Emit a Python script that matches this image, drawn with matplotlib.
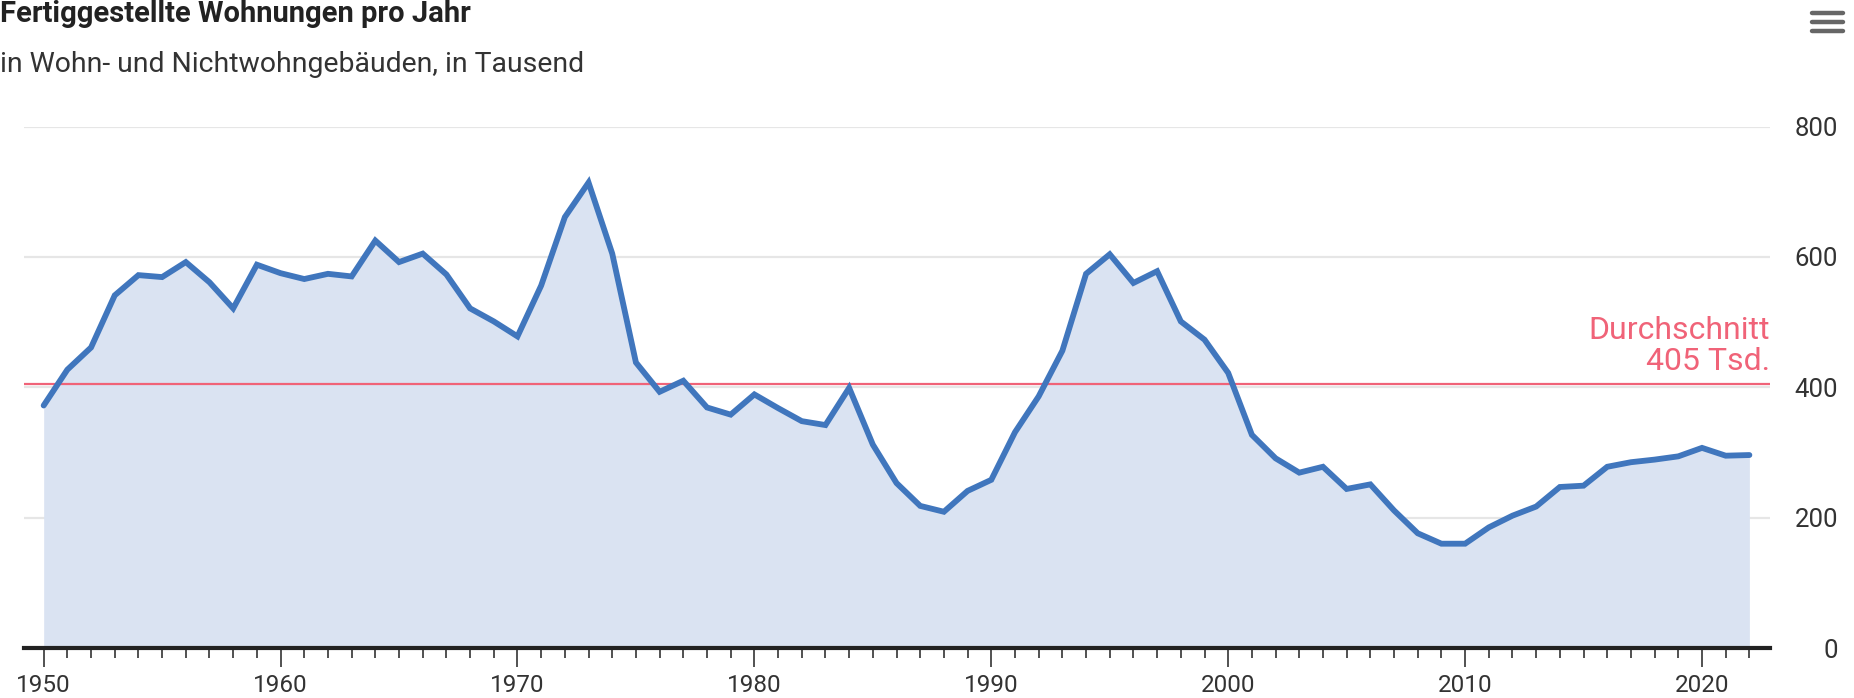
import numpy as np
import matplotlib
matplotlib.use("Agg")
import matplotlib.pyplot as plt
from matplotlib.ticker import MultipleLocator, FixedLocator

plt.rcParams["font.family"] = ["Roboto", "DejaVu Sans"]

# fertiggestellte Wohnungen, in Tausend
years = list(range(1950, 2023))
wohnungen = [
    372, 427, 461, 541, 572, 569, 592, 561, 521, 588,
    575, 566, 574, 570, 625, 592, 605, 573, 521, 501,
    478, 556, 661, 714, 605, 438, 393, 410, 369, 358,
    389, 368, 348, 342, 399, 312, 253, 218, 209, 241,
    258, 331, 386, 456, 574, 604, 560, 578, 501, 473,
    422, 327, 291, 269, 278, 244, 251, 211, 176, 160,
    160, 185, 203, 217, 247, 249, 278, 285, 289, 294,
    307, 295, 296,
]
durchschnitt = 405
y_ticks = [0, 200, 400, 600, 800]
x_ticks = [1950, 1960, 1970, 1980, 1990, 2000, 2010, 2020]

title = "Fertiggestellte Wohnungen pro Jahr"
subtitle = "in Wohn- und Nichtwohngebäuden, in Tausend"

LINE = "#4076bd"
FILL = "#dae3f2"
RED = "#f06378"
GRID = "#e6e6e6"
TXT = "#333333"

fig = plt.figure(figsize=(18.54, 6.98), dpi=100)
ax = fig.add_axes([24 / 1854, 1 - 648 / 698, (1770 - 24) / 1854, (648 - 126.5) / 698])

ax.fill_between(years, wohnungen, 0, color=FILL, lw=0, zorder=1)
for v in y_ticks[1:]:
    ax.axhline(v, color=GRID, lw=1.6, zorder=0.5)
ax.axhline(durchschnitt, color=RED, lw=1.6, zorder=2)
ax.plot(years, wohnungen, color=LINE, lw=4.2, solid_joinstyle="miter",
        solid_capstyle="round", zorder=3)

ax.text(1, durchschnitt + 12, "Durchschnitt\n405 Tsd.", transform=ax.get_yaxis_transform(),
        ha="right", va="bottom", color=RED, fontsize=23, linespacing=1.1)

ax.set_xlim(1949.17, 2022.87)
ax.set_ylim(0, 800)

for s in ["top", "left", "right"]:
    ax.spines[s].set_visible(False)
ax.spines["bottom"].set_color("#222222")
ax.spines["bottom"].set_linewidth(3)
ax.spines["bottom"].set_zorder(4)

ax.xaxis.set_major_locator(FixedLocator(x_ticks))
ax.xaxis.set_minor_locator(MultipleLocator(1))
ax.tick_params(axis="x", which="major", length=14, width=1.2, color="#333333",
               labelsize=17.5, labelcolor=TXT, pad=5)
ax.tick_params(axis="x", which="minor", length=7, width=1.2, color="#333333")

ax.yaxis.tick_right()
ax.set_yticks(y_ticks)
ax.tick_params(axis="y", length=0, labelsize=18.5, labelcolor=TXT, pad=49)
for lab in ax.get_yticklabels():
    lab.set_horizontalalignment("right")

fig.text(0 / 1854, 1 - 14 / 698, title, ha="left", va="center", fontsize=21,
         fontweight="bold", color="#222222")
fig.text(0 / 1854, 1 - 64 / 698, subtitle, ha="left", va="center", fontsize=20.4,
         color=TXT)

# Menü-Symbol oben rechts
for yy in [13, 22, 31]:
    fig.add_artist(plt.Line2D([1812 / 1854, 1843 / 1854], [1 - yy / 698] * 2,
                              color="#666666", lw=3.2, solid_capstyle="round"))

fig.savefig("out.png", dpi=100)
